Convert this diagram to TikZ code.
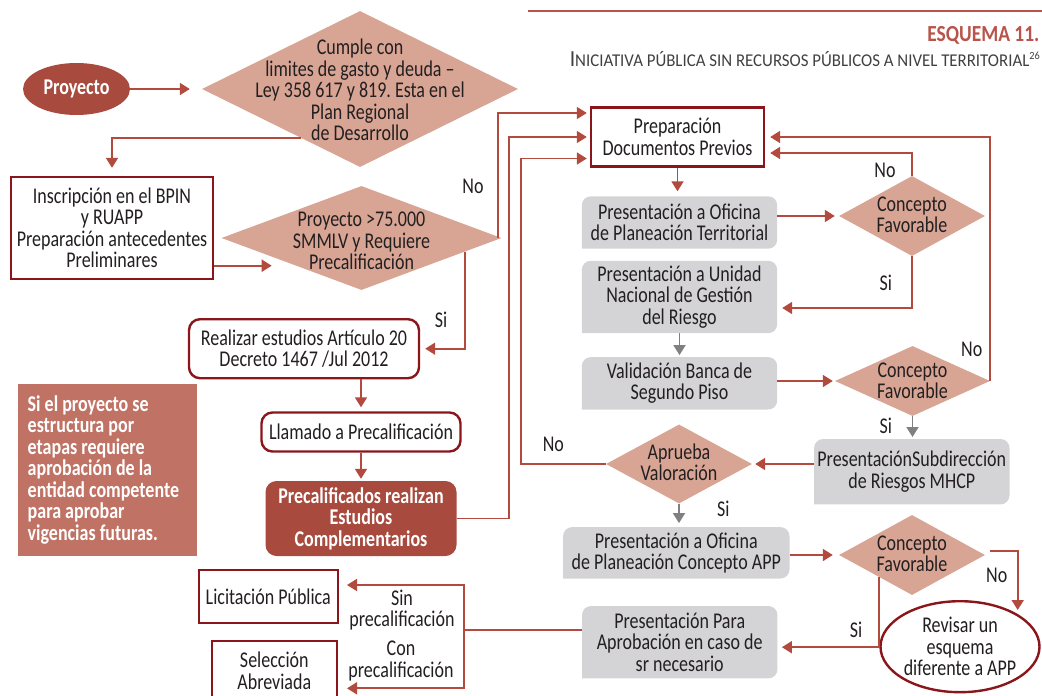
\documentclass[tikz,border=0pt]{standalone}
\usepackage{fontspec}
\usepackage{graphicx}
\setmainfont{Carlito}[FakeStretch=0.8]
\usetikzlibrary{shapes.geometric,arrows.meta,calc,backgrounds}
\definecolor{lineC}{RGB}{178,74,62}
\definecolor{darkF}{RGB}{168,74,62}
\definecolor{bordC}{RGB}{138,22,28}
\definecolor{diaF}{RGB}{216,165,149}
\definecolor{grayF}{RGB}{212,212,214}
\definecolor{noteF}{RGB}{192,114,100}
\definecolor{grayA}{RGB}{128,128,130}
\definecolor{txtC}{RGB}{35,31,32}
\definecolor{titleC}{RGB}{184,84,74}
\definecolor{subC}{RGB}{64,64,64}
\newcommand\bodyfont{\fontsize{22.5}{21.5}\selectfont}
\frenchspacing
\begin{document}
\begin{tikzpicture}[x=1pt,y=-1pt,
  font=\bodyfont, text=txtC,
  every node/.style={align=center, inner sep=0pt},
  wbox/.style={rectangle, draw=bordC, line width=2.4pt, fill=white},
  rbox/.style={wbox, rounded corners=11pt},
  gbox/.style={rectangle},
  dia/.style={diamond, fill=diaF, inner sep=0pt},
  conn/.style={draw=lineC, line width=1.8pt},
  arr/.style={conn, -{Triangle[length=10pt,width=12pt]}},
  garr/.style={draw=grayA, line width=1.8pt, -{Triangle[length=10pt,width=12pt]}},
  boldw/.style={text=white, font=\bfseries\bodyfont}]
\useasboundingbox (0,0) rectangle (1042,696);

% title
\draw[draw=titleC, line width=2pt] (528,11) -- (1042,11);
\node[anchor=base east, text=titleC] (title) at (1039.5,41.7)
  {\resizebox{112pt}{\height}{\bfseries\fontsize{23}{23}\selectfont ESQUEMA 11.}};
\node[anchor=base east, text=subC] (subtitle) at (1040,66.7)
  {\resizebox{470pt}{\height}{{\fontsize{23}{23}\selectfont I}{\fontsize{18}{18}\selectfont NICIATIVA PÚBLICA SIN RECURSOS PÚBLICOS A NIVEL TERRITORIAL}\raisebox{7pt}{\fontsize{11}{11}\selectfont 26}}};

% left column
\node[ellipse, fill=darkF, minimum width=107pt, minimum height=52pt, boldw] (proj) at (76.5,89) {Proyecto};
\node[dia, minimum width=316pt, minimum height=156pt] (d1) at (360,89) {};
\node (d1t) at (360,90) {Cumple con\\limites de gasto y deuda –\\Ley 358 617 y 819. Esta en el\\Plan Regional\\de Desarrollo};
\node[wbox, minimum width=202pt, minimum height=102pt] (insc) at (112,228) {Inscripción en el BPIN\\y RUAPP\\Preparación antecedentes\\Preliminares};
\node[dia, minimum width=280pt, minimum height=104pt] (d2) at (361.5,238) {};
\node (d2t) at (361.5,241) {Proyecto >75.000\\SMMLV y Requiere\\Precalificación};
\node[rbox, minimum width=230pt, minimum height=59pt] (real) at (304,348.7) {Realizar estudios Artículo 20\\Decreto 1467 /Jul 2012};
\node[rbox, minimum width=199pt, minimum height=39pt] (llam) at (361,432) {Llamado a Precalificación};
\node[rectangle, rounded corners=11pt, fill=darkF, boldw, minimum width=191pt, minimum height=75pt] (prec) at (361,518.5) {Precalificados realizan\\Estudios\\Complementarios};
\node[rectangle, fill=noteF, minimum width=179pt, minimum height=172pt] (note) at (107.5,470) {};
\node[anchor=west, align=left, boldw] (notet) at ([xshift=9.7pt]note.west) {Si el proyecto se\\estructura por\\etapas requiere\\aprobación de la\\entidad competente\\para aprobar\\vigencias futuras.};
\node[wbox, minimum width=139pt, minimum height=53pt] (lic) at (268.3,596.7) {Licitación Pública};
\node[wbox, minimum width=125pt, minimum height=60pt] (sel) at (274.3,670.7) {Selección\\Abreviada};

% right column
\node[wbox, minimum width=173pt, minimum height=59pt] (prep) at (677.5,137) {Preparación\\Documentos Previos};
\node[gbox, minimum width=195pt, minimum height=52pt] (g1) at (679.5,222.5) {Presentación a Oficina\\de Planeación Territorial};
\node[gbox, minimum width=195pt, minimum height=72pt] (g2) at (679.5,297) {Presentación a Unidad\\Nacional de Gestión\\del Riesgo};
\node[gbox, minimum width=195pt, minimum height=52pt] (g3) at (679.5,383.3) {Validación Banca de\\Segundo Piso};
\node[gbox, minimum width=195pt, minimum height=65pt] (g4) at (911.8,471.7) {PresentaciónSubdirección\\de Riesgos MHCP};
\node[gbox, minimum width=226pt, minimum height=51pt] (g5) at (676.3,552.8) {Presentación a Oficina\\de Planeación Concepto APP};
\node[gbox, minimum width=195pt, minimum height=72pt] (g6) at (679.7,642.2) {Presentación Para\\Aprobación en caso de\\sr necesario};
\node[dia, minimum width=146pt, minimum height=80pt] (d3) at (912,216) {};
\node (d3t) at (912,215) {Concepto\\Favorable};
\node[dia, minimum width=155pt, minimum height=70pt] (d4) at (912.5,381) {};
\node (d4t) at (912.5,381) {Concepto\\Favorable};
\node[dia, minimum width=146pt, minimum height=79pt] (d5) at (679,464) {};
\node (d5t) at (679,462.5) {Aprueba\\Valoración};
\node[dia, minimum width=146pt, minimum height=80pt] (d6) at (912,555) {};
\node (d6t) at (912,554) {Concepto\\Favorable};
\node[wbox, ellipse, minimum width=146pt, minimum height=91pt] (rev) at (960,646.7) {Revisar un\\esquema\\diferente a APP};

\begin{scope}[on background layer]
\foreach \n in {g1,g2,g3,g4,g5,g6}
  \fill[grayF] (\n.south west) [rounded corners=9pt] -- (\n.north west) -- (\n.north east) -- (\n.south east) [sharp corners] -- cycle;
\end{scope}

% labels
\node (lNo1) at (473,186) {No};
\node (lSi1) at (441,320) {Si};
\node (lNo2) at (885,170.7) {No};
\node (lSi2) at (885.7,283.3) {Si};
\node (lNo3) at (971.7,349.3) {No};
\node (lSi3) at (885.7,426) {Si};
\node (lNo4) at (553.3,444) {No};
\node (lSi4) at (723.3,509.3) {Si};
\node (lNo5) at (996.7,575) {No};
\node (lSi5) at (856,630) {Si};
\node (lSin) at (402,610) {Sin\\precalificación};
\node (lCon) at (401,661) {Con\\precalificación};

% connectors
\coordinate (inscEnd) at (271.7,265.7);
\coordinate (noEnd) at (1017.7,610);
\draw[arr, shorten >=12pt] (proj) -- (d1);
\draw[arr, shorten >=8pt] ($(d1.west)!0.63!(d1.south)$) -| (insc.north);
\draw[arr] ([yshift=-37.7pt]insc.east) -- (inscEnd);
\draw[arr, shorten >=3pt] ([xshift=-4pt]d2.east) |- ([yshift=24pt]prep.west);
\draw[arr, shorten >=5pt] ($(d2.east)!0.26!(d2.south)$) |- (real.east);
\draw[arr, shorten >=3pt] (prec.east) -- ++(52.5,0) |- (prep.west);
\draw[arr, shorten >=3pt] (d5.west) -- ++(-85,0) |- ([yshift=-21.5pt]prep.west);
\draw[arr, shorten >=4pt] (real.south -| llam.north) -- (llam.north);
\draw[arr, shorten >=2pt] (llam.south) -- (prec.north);

\draw[arr, shorten >=5pt] (prep.south) -- (prep.south |- g1.north);
\draw[arr, shorten >=4pt] (g1.east |- d3.west) -- (d3.west);
\draw[arr, shorten >=5pt] (d3.north) |- ([yshift=-16pt]prep.east);
\draw[arr, shorten >=5pt] (d3.south) |- ([yshift=-11pt]g2.east);
\draw[garr, shorten >=2pt] (g2.south) -- (g3.north);
\draw[arr, shorten >=2pt] (g3.east |- d4.west) -- (d4.west);
\draw[arr, shorten >=5pt] (d4.east) |- (prep.east);
\draw[garr, shorten >=2pt] (d4.south) -- (d4.south |- g4.north);
\draw[arr, shorten >=3pt] (g4.west |- d5.east) -- (d5.east);
\draw[garr, shorten >=4pt] (d5.south) -- (d5.south |- g5.north);
\draw[arr, shorten >=6pt] (g5.east |- d6.west) -- (d6.west);
\draw[arr] ([xshift=5pt,yshift=4pt]d6.east) -| (noEnd);
\draw[arr, shorten >=4.5pt] ($(d6.west)!0.55!(d6.south)$) |- ([yshift=-5pt]g6.east);
\draw[conn] ([yshift=12pt]g6.west) -- ++(-118,0) coordinate (split);
\draw[arr, shorten >=8pt] (split) |- ([yshift=11.7pt]lic.east);
\draw[arr, shorten >=9pt] (split) |- ([yshift=-17.6pt]sel.east);
\end{tikzpicture}
\end{document}
